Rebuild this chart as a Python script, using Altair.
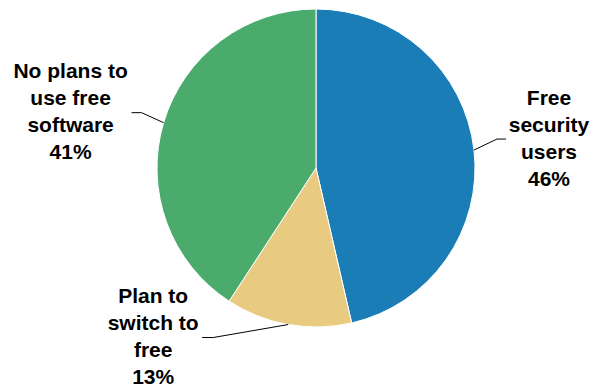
import altair as alt
import pandas as pd

# ---- data ----
categories = ["Free security users", "Plan to switch to free", "No plans to use free software"]
label_text = ["Free\nsecurity\nusers", "Plan to\nswitch to\nfree", "No plans to\nuse free\nsoftware"]
values = [46.4, 12.8, 40.8]

# ---- style / layout ----
colors = ["#1a7db6", "#e8cb80", "#4bab6d"]
CX, CY, R = 308, 160, 159
LINE_H = 27
# label centre offset from slice mid-point on the rim, and leader elbow/end x offsets from label centre
label_dx = [75, -135, -93]
label_dy = [-11, 13, -10]
elbow_dx = [-52, 60, 71]
end_dx = [-43, 49, 61]

df = pd.DataFrame({
    "category": categories,
    "value": values,
    "order": list(range(len(categories))),
    "label": [f"{t}\n{round(v)}%" for t, v in zip(label_text, values)],
    "ldx": label_dx,
    "ldy": label_dy,
    "edx": elbow_dx,
    "ndx": end_dx,
})

base = alt.Chart(df)

pie = base.mark_arc(outerRadius=R, stroke="white", strokeWidth=1).encode(
    theta=alt.Theta("value:Q", stack=True),
    color=alt.Color("category:N", scale=alt.Scale(domain=categories, range=colors), legend=None),
    order=alt.Order("order:Q"),
    x=alt.value(CX),
    y=alt.value(CY),
)

geo = base.transform_window(
    cum="sum(value)", sort=[alt.SortField("order")]
).transform_joinaggregate(
    total="sum(value)"
).transform_calculate(
    mid="2*PI*(datum.cum - datum.value/2)/datum.total"
).transform_calculate(
    rx=f"{CX} + {R}*sin(datum.mid)",
    ry=f"{CY} - {R}*cos(datum.mid)",
).transform_calculate(
    lx="datum.rx + datum.ldx",
    ly="datum.ry + datum.ldy",
).transform_calculate(
    ex="datum.lx + datum.edx",
    nx="datum.lx + datum.ndx",
)

seg1 = geo.mark_rule(color="black", strokeWidth=1).encode(
    x=alt.X("rx:Q", scale=None),
    y=alt.Y("ry:Q", scale=None),
    x2="ex:Q",
    y2="ly:Q",
)
seg2 = geo.mark_rule(color="black", strokeWidth=1).encode(
    x=alt.X("ex:Q", scale=None),
    y=alt.Y("ly:Q", scale=None),
    x2="nx:Q",
    y2="ly:Q",
)

labels = geo.mark_text(
    font="Liberation Sans", fontSize=21, fontWeight="bold", color="black",
    align="center", baseline="middle", lineBreak="\n", lineHeight=LINE_H,
    dy=-1.5 * LINE_H,
).encode(
    x=alt.X("lx:Q", scale=None),
    y=alt.Y("ly:Q", scale=None),
    text="label:N",
)

chart = alt.layer(pie, seg1, seg2, labels).properties(
    width=585, height=379, padding=0, autosize="none"
).configure_view(stroke=None)

chart.save("out.html", embed_options={"renderer": "svg", "actions": False})
